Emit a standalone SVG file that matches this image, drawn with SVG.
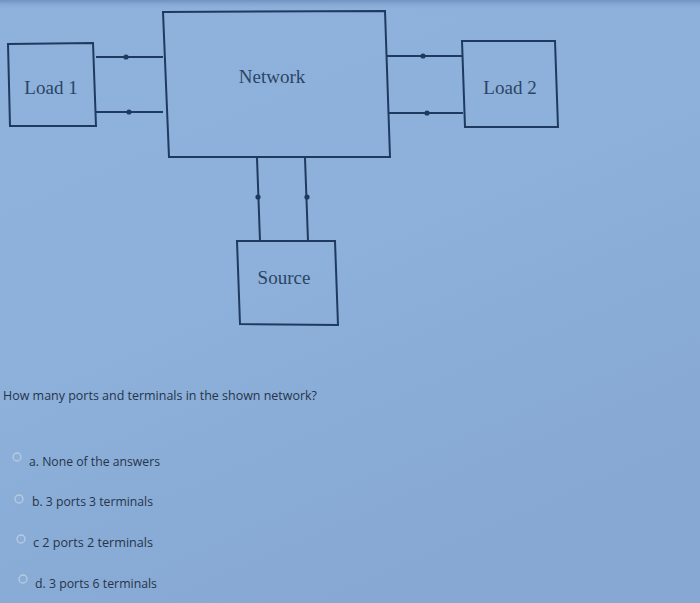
<svg xmlns="http://www.w3.org/2000/svg" width="700" height="603" viewBox="0 0 700 603">
<defs>
<linearGradient id="bg" x1="0" y1="0" x2="0.5" y2="1">
<stop offset="0" stop-color="#8fb2dc"/>
<stop offset="0.5" stop-color="#8db1db"/>
<stop offset="1" stop-color="#86a8d2"/>
</linearGradient>
<linearGradient id="top" x1="0" y1="0" x2="0" y2="1">
<stop offset="0" stop-color="#6f92c2"/>
<stop offset="1" stop-color="#8fb2dc" stop-opacity="0"/>
</linearGradient>
<style>
.box{fill:none;stroke:#1f3a60;stroke-width:2}
.w{stroke:#1f3a60;stroke-width:2;fill:none}
.dot{fill:#1f3a60}
.lbl{font-family:"Liberation Serif",serif;font-size:19px;fill:#2b4466;text-anchor:middle}
.q{font-family:"Open Sans","DejaVu Sans",sans-serif;font-size:13px;fill:#26344a}
.opt{font-family:"Open Sans","DejaVu Sans",sans-serif;font-size:12.5px;fill:#26344a}
.rad{fill:none;stroke:#b9cbe0;stroke-width:1.3}
</style>
</defs>
<rect width="700" height="603" fill="url(#bg)"/>
<rect width="700" height="10" fill="url(#top)"/>
<g id="connectors">
<path class="w" d="M96 57H163M96 112H163"/>
<circle class="dot" cx="126" cy="57" r="2.6"/>
<circle class="dot" cx="129" cy="112" r="2.6"/>
<path class="w" d="M386 56H463M389 113H463"/>
<circle class="dot" cx="423" cy="56" r="2.6"/>
<circle class="dot" cx="427" cy="113" r="2.6"/>
<path class="w" d="M257 158L260 241M305 158L308 241"/>
<circle class="dot" cx="258" cy="197" r="2.6"/>
<circle class="dot" cx="307" cy="197" r="2.6"/>
</g>
<g id="load1">
<path class="box" d="M8 44L93 43L96 126L10 126Z"/>
<text class="lbl" x="51" y="94">Load 1</text>
</g>
<g id="network">
<path class="box" d="M163 12L385 11L390 157L169 157Z"/>
<text class="lbl" x="272" y="83">Network</text>
</g>
<g id="load2">
<path class="box" d="M462 41L555 41L558 127L465 127Z"/>
<text class="lbl" x="510" y="94">Load 2</text>
</g>
<g id="source">
<path class="box" d="M237 241L335 241L338 325L240 324Z"/>
<text class="lbl" x="284" y="284">Source</text>
</g>
<g id="question">
<text class="q" x="3" y="400" textLength="314" lengthAdjust="spacingAndGlyphs">How many ports and terminals in the shown network?</text>
<circle class="rad" cx="17" cy="457" r="4"/>
<text class="opt" x="29" y="466" textLength="131" lengthAdjust="spacingAndGlyphs">a. None of the answers</text>
<circle class="rad" cx="19" cy="499" r="4"/>
<text class="opt" x="32" y="506" textLength="121" lengthAdjust="spacingAndGlyphs">b. 3 ports 3 terminals</text>
<circle class="rad" cx="21" cy="539" r="4"/>
<text class="opt" x="33" y="547" textLength="120" lengthAdjust="spacingAndGlyphs">c 2 ports 2 terminals</text>
<circle class="rad" cx="23" cy="579" r="4"/>
<text class="opt" x="35" y="588" textLength="122" lengthAdjust="spacingAndGlyphs">d. 3 ports 6 terminals</text>
</g>
</svg>
